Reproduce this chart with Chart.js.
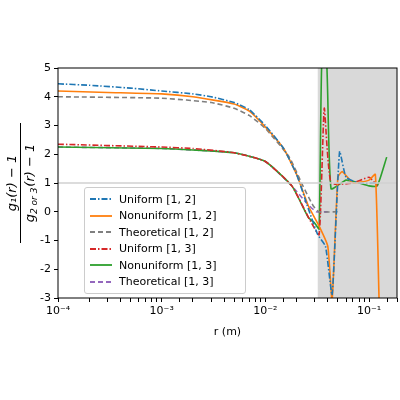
<!DOCTYPE html>
<html>
<head>
<script src="https://cdn.jsdelivr.net/npm/chart.js@4"></script>
<style>
body { margin: 0; background: #fff; }
#wrap { position: relative; width: 400px; height: 400px; }
#legend { position: absolute; left: 84px; top: 187px; width: 152px; padding: 3px 4px; border: 1px solid #ccc; border-radius: 3px; background: rgba(255,255,255,0.85); font: 11px "DejaVu Sans"; }
#legend div { height: 16.5px; display: flex; align-items: center; }
#legend svg { margin-right: 6px; }
</style>
</head>
<body>
<div id="wrap"><canvas id="chart" width="400" height="400"></canvas><div id="legend"></div></div>
<script>
const shadeStart = 0.032;

const uni12X = [1e-4, 2e-4, 5e-4, 1e-3, 2e-3, 3e-3, 5e-3, 7e-3, 1e-2, 1.5e-2, 2e-2, 2.6e-2, 3.2e-2, 3.8e-2, 4.4e-2, 5.2e-2, 6e-2, 8e-2, 0.12];
const uni12Y = [4.45, 4.4, 4.3, 4.2, 4.1, 4.0, 3.8, 3.55, 3.0, 2.2, 1.3, 0.1, -0.8, -1.2, -2.9, 2.1, 1.2, 1.0, 1.0];

const non12X = [1e-4, 3e-4, 1e-3, 2e-3, 5e-3, 7e-3, 1e-2, 1.5e-2, 2e-2, 2.6e-2, 3.3e-2, 4e-2, 4.4e-2, 5e-2, 5.5e-2, 7e-2, 0.1, 0.115, 0.125];
const non12Y = [4.2, 4.15, 4.1, 4.0, 3.75, 3.5, 2.95, 2.2, 1.3, 0.2, -0.5, -1.2, -3.1, 1.2, 1.4, 1.0, 1.1, 1.3, -3.1];

const theo12X = [1e-4, 1e-3, 3e-3, 5e-3, 7e-3, 1e-2, 1.7e-2, 2.3e-2, 2.9e-2, 3.3e-2, 5e-2];
const theo12Y = [4.0, 3.95, 3.8, 3.6, 3.35, 2.9, 1.9, 0.9, 0.2, 0.0, 0.0];

const uni13X = [1e-4, 1e-3, 2e-3, 5e-3, 1e-2, 1.8e-2, 2.7e-2, 3.3e-2, 3.7e-2, 4.3e-2, 7e-2, 0.1, 0.12];
const uni13Y = [2.35, 2.25, 2.2, 2.05, 1.75, 0.9, -0.3, -0.8, 3.6, 1.0, 1.0, 1.2, 0.9];

const non13X = [1e-4, 1e-3, 2e-3, 5e-3, 1e-2, 1.8e-2, 2.6e-2, 3e-2, 3.3e-2, 3.5e-2, 3.9e-2, 4.3e-2, 6e-2, 8e-2, 0.1, 0.12, 0.148];
const non13Y = [2.25, 2.2, 2.15, 2.05, 1.75, 0.9, -0.2, -0.4, -0.6, 5.2, 5.2, 0.8, 1.1, 1.0, 0.9, 0.9, 1.9];

const theo13X = [1e-4, 1e-3, 5e-3, 1e-2, 1.8e-2, 2.5e-2, 3.1e-2, 4e-2];
const theo13Y = [2.25, 2.2, 2.05, 1.75, 0.9, 0.3, 0.0, 0.0];

const labels = ['Uniform [1, 2]', 'Nonuniform [1, 2]', 'Theoretical [1, 2]', 'Uniform [1, 3]', 'Nonuniform [1, 3]', 'Theoretical [1, 3]'];
const colors = ['#1f77b4', '#ff7f0e', '#7f7f7f', '#d62728', '#2ca02c', '#9467bd'];
const dashes = [[6, 2, 1.5, 2], [], [5, 3], [6, 2, 1.5, 2], [], [5, 3]];
const xs = [uni12X, non12X, theo12X, uni13X, non13X, theo13X];
const ys = [uni12Y, non12Y, theo12Y, uni13Y, non13Y, theo13Y];

const datasets = labels.map((label, i) => ({
    label,
    data: xs[i].map((x, j) => ({ x, y: ys[i][j] })),
    borderColor: colors[i],
    borderDash: dashes[i],
    borderWidth: 1.6,
    pointRadius: 0,
    tension: 0.15,
    fill: false,
}));
datasets.unshift({
    label: 'ref',
    data: [{ x: 1e-4, y: 1 }, { x: 0.186, y: 1 }],
    borderColor: '#d0d0d0',
    borderWidth: 1.5,
    pointRadius: 0,
});

const supers = { '-': '⁻', '1': '¹', '2': '²', '3': '³', '4': '⁴' };

// Fond gris et cadre
const decor = {
    id: 'decor',
    beforeDatasetsDraw(chart) {
        const { ctx, chartArea: a, scales } = chart;
        const x0 = scales.x.getPixelForValue(shadeStart);
        ctx.save();
        ctx.fillStyle = '#d9d9d9';
        ctx.fillRect(x0, a.top, a.right - x0, a.bottom - a.top);
        ctx.restore();
    },
    afterDraw(chart) {
        const { ctx, chartArea: a } = chart;
        ctx.save();
        ctx.strokeStyle = '#000';
        ctx.lineWidth = 1;
        ctx.strokeRect(a.left, a.top, a.right - a.left, a.bottom - a.top);
        ctx.fillStyle = '#000';
        ctx.font = '11px "DejaVu Sans"';
        ctx.textAlign = 'center';
        ctx.fillText('r (m)', (a.left + a.right) / 2, 335);
        // y label as a fraction
        ctx.translate(20, (a.top + a.bottom) / 2);
        ctx.rotate(-Math.PI / 2);
        const big = 'italic 13px "DejaVu Sans"', small = 'italic 9px "DejaVu Sans"';
        ctx.font = big;
        ctx.fillText('g\u2081(r) \u2212 1', 0, -4);
        ctx.fillRect(-60, 0, 120, 1);
        ctx.textAlign = 'left';
        const p1 = 'g', p2 = '2 or 3', p3 = '(r) \u2212 1';
        ctx.font = big; const w1 = ctx.measureText(p1).width, w3 = ctx.measureText(p3).width;
        ctx.font = small; const w2 = ctx.measureText(p2).width;
        let x = -(w1 + w2 + w3 + 1) / 2;
        ctx.font = big; ctx.fillText(p1, x, 14); x += w1;
        ctx.font = small; ctx.fillText(p2, x, 17); x += w2 + 1;
        ctx.font = big; ctx.fillText(p3, x, 14);
        ctx.restore();
    },
};

new Chart(document.getElementById('chart'), {
    type: 'line',
    data: { datasets },
    options: {
        responsive: false,
        animation: false,
        layout: { padding: { top: 68, right: 2 } },
        plugins: { legend: { display: false }, tooltip: { enabled: false } },
        scales: {
            x: {
                type: 'logarithmic',
                min: 1e-4,
                max: 0.186,
                afterFit: s => { s.height = 102; },
                grid: { drawOnChartArea: false, color: '#000', tickLength: 4 },
                border: { display: false },
                ticks: {
                    color: '#000',
                    font: { size: 11, family: 'DejaVu Sans' },
                    maxRotation: 0,
                    autoSkip: false,
                    callback: v => {
                        const e = Math.log10(v);
                        if (Math.abs(e - Math.round(e)) > 1e-6) return '';
                        return '10' + String(Math.round(e)).split('').map(c => supers[c]).join('');
                    },
                },
            },
            y: {
                min: -3,
                max: 5,
                afterFit: s => { s.width = 58; },
                grid: { drawOnChartArea: false, color: '#000', tickLength: 4 },
                border: { display: false },
                ticks: { stepSize: 1, color: '#000', font: { size: 11, family: 'DejaVu Sans' } },
            },
        },
    },
    plugins: [decor],
});

// Légende
const legend = document.getElementById('legend');
labels.forEach((label, i) => {
    const row = document.createElement('div');
    row.innerHTML = `<svg width="24" height="6"><line x1="1" y1="3" x2="23" y2="3" stroke="${colors[i]}" stroke-width="1.8" stroke-dasharray="${dashes[i].join(' ')}"/></svg>${label}`;
    legend.appendChild(row);
});
</script>
</body>
</html>
